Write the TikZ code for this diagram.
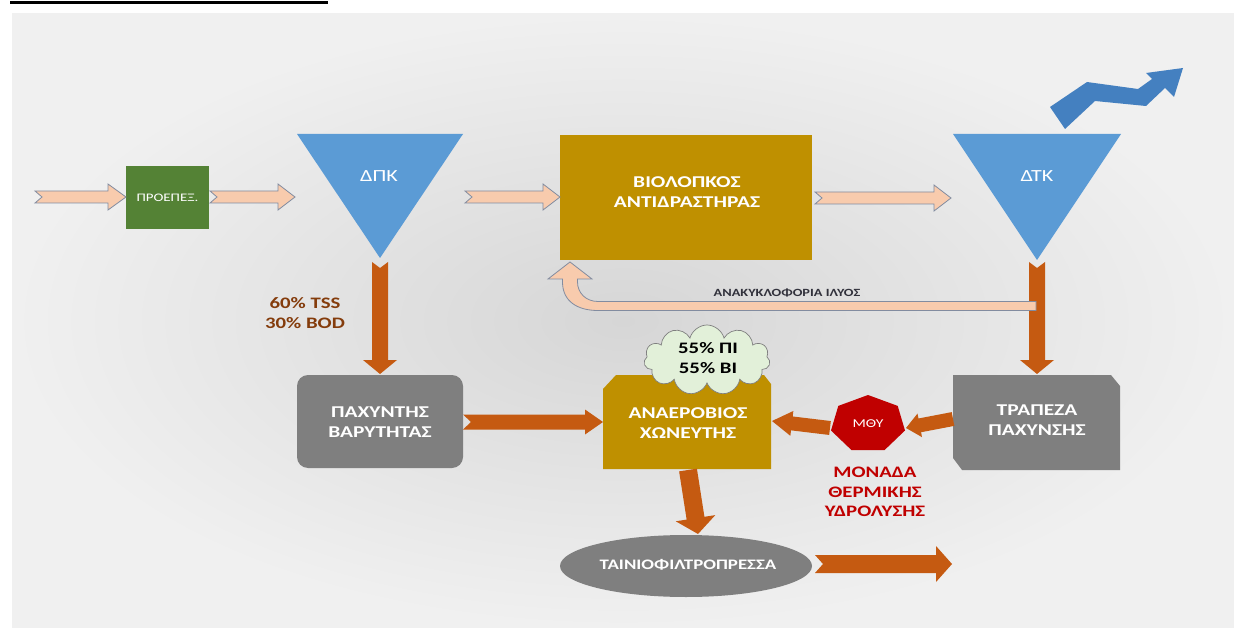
\documentclass[tikz,border=0pt]{standalone}
\usepackage{fontspec}
\setmainfont{Carlito}[FakeStretch=1.3]
\usetikzlibrary{calc,shapes.geometric,shapes.symbols}
\definecolor{bggray}{RGB}{214,214,214}
\definecolor{bgedge}{RGB}{240,240,240}
\definecolor{pregreen}{RGB}{84,130,53}
\definecolor{tblue}{RGB}{91,155,213}
\definecolor{zblue}{RGB}{68,128,192}
\definecolor{gold}{RGB}{191,144,0}
\definecolor{boxgray}{RGB}{127,127,127}
\definecolor{flow}{RGB}{197,90,17}
\definecolor{peach}{RGB}{248,203,173}
\definecolor{peachline}{RGB}{130,140,160}
\definecolor{labbrown}{RGB}{132,60,12}
\definecolor{mred}{RGB}{192,0,0}
\definecolor{cloudgreen}{RGB}{226,240,217}
\definecolor{darktxt}{RGB}{50,50,60}
\tikzset{
  peacharr/.style={fill=peach, draw=peachline, line width=0.8pt},
  flowarr/.style={fill=flow},
  boxtxt/.style={text=white, font=\bfseries\fontsize{16.5}{20}\selectfont, align=center},
  lbl/.style={font=\bfseries\fontsize{16}{19.5}\selectfont, align=center},
}
% block arrow: style, tail, tip, half shaft, half head, head length, notch
\newcommand\blkarr[7]{%
  \coordinate (ba-H) at ($(#3)!#6!(#2)$);
  \path[#1] ($(#2)!#4!90:(#3)$) -- ($(ba-H)!#4!-90:(#2)$) -- ($(ba-H)!#5!-90:(#2)$)
    -- (#3) -- ($(ba-H)!#5!90:(#2)$) -- ($(ba-H)!#4!90:(#2)$)
    -- ($(#2)!#4!-90:(#3)$) -- ($(#2)!#7!(#3)$) -- cycle;
}
\begin{document}
\begin{tikzpicture}[x=1pt,y=-1pt]
\useasboundingbox (0,0) rectangle (1234,628);
\fill[white] (0,0) rectangle (1234,628);
\shade[inner color=bggray, outer color=bgedge] (12,14) rectangle (1234,628);
\draw[black, line width=2.5pt] (10,2.5) -- (328,2.5);

% ---- nodes ----
\node[fill=pregreen, minimum width=83, minimum height=63, inner sep=0pt,
      text=white, font=\fontsize{11.5}{13}\selectfont] (pre) at (167.5,197.5) {ΠΡΟΕΠΕΞ.};

\fill[tblue] (297,134) -- (463,134) -- (380,258) -- cycle;
\node[text=white, font=\fontsize{17}{20}\selectfont] (dpk) at (379,176) {ΔΠΚ};
\coordinate (dpk-apex) at (380,262);

\fill[tblue] (953,134) -- (1121,134) -- (1037,260) -- cycle;
\node[text=white, font=\fontsize{17}{20}\selectfont] (dtk) at (1037,176) {ΔΤΚ};
\coordinate (dtk-apex) at (1037,262);

\node[fill=gold, minimum width=252, minimum height=125, inner sep=0pt] (bio) at (686,197.5) {};
\node[boxtxt] (bio-t) at (687,192) {ΒΙΟΛΟΠΚΟΣ\\ΑΝΤΙΔΡΑΣΤΗΡΑΣ};

\node[fill=boxgray, rounded corners=11pt, minimum width=166, minimum height=93, inner sep=0pt] (pax) at (380,421.5) {};
\node[boxtxt] (pax-t) at (380,422) {ΠΑΧΥΝΤΗΣ\\ΒΑΡΥΤΗΤΑΣ};

\fill[gold] (603,389) -- (616,375) -- (764,375) -- (771,384) -- (771,469) -- (603,469) -- cycle;
\node[boxtxt] (ana) at (688,423) {ΑΝΑΕΡΟΒΙΟΣ\\ΧΩΝΕΥΤΗΣ};
\node[cloud, cloud puffs=11, aspect=1.8, fill=cloudgreen, draw=boxgray, line width=0.7pt,
      minimum width=126, minimum height=70, inner sep=0pt] (cld) at (707,360) {};
\node[lbl, text=black] (cld-t) at (708,358) {55\% ΠΙ\\55\% ΒΙ};

\fill[boxgray] (953,375) -- (1111,375) -- (1120,386) -- (1120,470) -- (962,470) -- (953,458) -- cycle;
\node[boxtxt] (trap) at (1037,420) {ΤΡΑΠΕΖΑ\\ΠΑΧΥΝΣΗΣ};

\fill[mred] (868,395) -- (838.3,405.9) -- (831,430.5) -- (851.5,450.1) -- (884.5,450.1) -- (905,430.5) -- (897.7,405.9) -- cycle;
\node[text=white, font=\fontsize{12}{14}\selectfont] (mthy) at (868,424) {ΜΘΥ};
\node[lbl, text=mred] (mthy-l) at (875,492) {ΜΟΝΑΔΑ\\ΘΕΡΜΙΚΗΣ\\ΥΔΡΟΛΥΣΗΣ};

\node[ellipse, fill=boxgray, minimum width=252, minimum height=62, inner sep=0pt] (tain) at (686,566) {};
\node[text=white, font=\bfseries\fontsize{14.5}{17}\selectfont] (tain-t) at (688,565) {ΤΑΙΝΙΟΦΙΛΤΡΟΠΡΕΣΣΑ};

\node[lbl, text=labbrown] (tss) at (305,313) {60\% TSS\\30\% BOD};

% ---- coordinates for connector ends ----
\coordinate (in-s) at (35,197);
\coordinate (in-e) at (126,197);
\coordinate (a2s) at (210,197);
\coordinate (a2e) at (295,197);
\coordinate (a3s) at (465,197);
\coordinate (a3e) at (560,197);
\coordinate (a4s) at (815,198);
\coordinate (a4e) at (951,198);
\coordinate (pax-top) at (380,374);
\coordinate (trap-top) at (1037,374);
\coordinate (pax-r) at (463,422);
\coordinate (ana-l) at (603,422);
\coordinate (trap-l) at (953,419);
\coordinate (mthy-r) at (906,428);
\coordinate (mthy-l2) at (830,428);
\coordinate (ana-r) at (772,421);
\coordinate (ana-b) at (688,470);
\coordinate (tain-top) at (698,534);
\coordinate (tain-r) at (815,564);
\coordinate (out-e) at (952,564);

% ---- peach process arrows ----
\blkarr{peacharr}{in-s}{in-e}{6pt}{13pt}{18pt}{7pt}
\blkarr{peacharr}{a2s}{a2e}{6pt}{13pt}{17pt}{7pt}
\blkarr{peacharr}{a3s}{a3e}{6pt}{13pt}{17pt}{7pt}
\blkarr{peacharr}{a4s}{a4e}{6pt}{13pt}{17pt}{7pt}

% ---- sludge arrows ----
\blkarr{flowarr}{dpk-apex}{pax-top}{8pt}{17pt}{14pt}{6pt}
\blkarr{flowarr}{dtk-apex}{trap-top}{8pt}{17pt}{14pt}{6pt}
\blkarr{flowarr}{pax-r}{ana-l}{7.5pt}{12.5pt}{18pt}{8pt}
\blkarr{flowarr}{trap-l}{mthy-r}{7pt}{12pt}{14pt}{0pt}
\blkarr{flowarr}{mthy-l2}{ana-r}{7pt}{12.5pt}{20pt}{0pt}
\blkarr{flowarr}{ana-b}{tain-top}{9pt}{20pt}{16pt}{0pt}
\blkarr{flowarr}{tain-r}{out-e}{9pt}{18pt}{16pt}{8pt}

% ---- recirculation ----
\coordinate (rc-s) at (1036,306);
\coordinate (rc-e) at (570,262);
\path[peacharr] (rc-s |- 0,301.5) -- (598,301.5) .. controls (586,301.5) and (577.5,293) .. (577.5,282)
  -- (577.5,279) -- (592,279) -- (rc-e) -- (548,279) -- (562.5,279) -- (562.5,282)
  .. controls (562.5,301) and (577,310.5) .. (598,310.5) -- (rc-s |- 0,310.5) -- cycle;
\node[text=darktxt, font=\bfseries\fontsize{11}{13}\selectfont] (rc-l) at (787,293) {ΑΝΑΚΥΚΛΟΦΟΡΙΑ ΙΛΥΟΣ};

% ---- effluent zigzag arrow ----
\fill[zblue] (1050,107) -- (1087,82) -- (1138,89) -- (1152,79) -- (1146,73) -- (1183,68)
  -- (1174,97) -- (1165,88) -- (1146,106) -- (1095,101) -- (1065,129) -- cycle;
\end{tikzpicture}
\end{document}
